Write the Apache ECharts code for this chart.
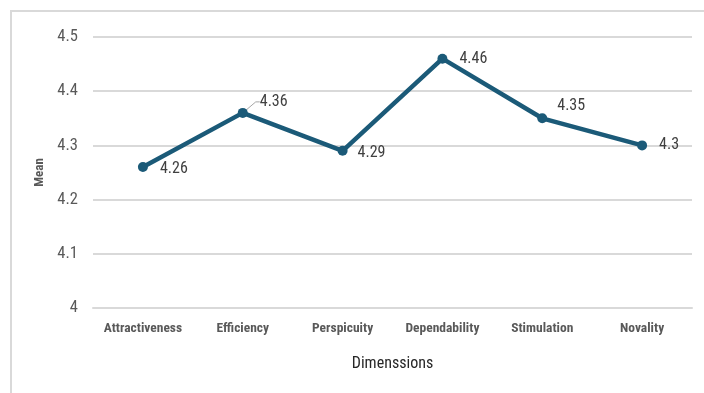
<!DOCTYPE html>
<html>
<head>
<meta charset="utf-8">
<script src="https://cdn.jsdelivr.net/npm/echarts@6/dist/echarts.min.js"></script>
<style>
  html, body { margin: 0; padding: 0; background: #fff; }
  #frame { position: absolute; left: 10px; top: 10px; width: 700px; height: 390px;
           border-left: 2px solid #d9d9d9; border-top: 2px solid #d9d9d9; box-sizing: border-box; }
  #chart { width: 704px; height: 393px; position: absolute; left: 0; top: 0; }
</style>
</head>
<body>
<div id="frame"></div>
<div id="chart"></div>
<script>
// Mean score per UEQ dimension
const dimensions = ['Attractiveness', 'Efficiency', 'Perspicuity', 'Dependability', 'Stimulation', 'Novality'];
const means = [4.26, 4.36, 4.29, 4.46, 4.35, 4.3];

const font = '"Liberation Sans Narrow", "Roboto Condensed", "DejaVu Sans Condensed", Arial, sans-serif';
const chart = echarts.init(document.getElementById('chart'), null, { renderer: 'canvas' });

// per-point label placement: [dx, dy] from the default right-hand spot
const labelShift = [[4, 2], [4, -11], [2, 2], [4, 0], [2, -12], [4, 0]];
// only the Efficiency label keeps a leader line
const leader = [false, true, false, false, false, false];

chart.setOption({
  backgroundColor: 'transparent',
  animation: false,
  grid: { left: 93, right: 12, top: 37, bottom: 85, containLabel: false },
  xAxis: {
    type: 'category',
    data: dimensions,
    boundaryGap: true,
    name: 'Dimenssions',
    nameLocation: 'middle',
    nameGap: 48,
    nameTextStyle: { fontFamily: font, fontSize: 16, color: '#262626' },
    axisLine: { show: true, lineStyle: { color: '#d9d9d9', width: 2 } },
    axisTick: { show: false },
    axisLabel: { fontFamily: font, fontSize: 13.5, fontWeight: 'bold', color: '#595959', margin: 14, interval: 0 }
  },
  yAxis: {
    type: 'value',
    min: 4,
    max: 4.5,
    interval: 0.1,
    name: 'Mean',
    nameLocation: 'middle',
    nameGap: 44,
    nameRotate: 90,
    nameTextStyle: { fontFamily: font, fontSize: 13, fontWeight: 'bold', color: '#595959' },
    axisLine: { show: false },
    axisTick: { show: false },
    axisLabel: {
      fontFamily: font, fontSize: 16.5, color: '#595959', margin: 15,
      formatter: v => String(Math.round(v * 10) / 10)
    },
    splitLine: { lineStyle: { color: '#d9d9d9', width: 2 } }
  },
  series: [{
    type: 'line',
    data: means.map((v, i) => ({ value: v, labelLine: { show: leader[i] } })),
    symbol: 'circle',
    symbolSize: 10,
    lineStyle: { color: '#1b5a78', width: 4.5 },
    itemStyle: { color: '#1b5a78' },
    label: {
      show: true,
      position: 'right',
      distance: 8,
      fontFamily: font,
      fontSize: 16,
      color: '#404040',
      formatter: p => String(p.value)
    },
    labelLine: { length2: 4, lineStyle: { color: '#a6a6a6', width: 1 } },
    labelLayout: p => {
      const s = labelShift[p.dataIndex];
      return { dx: s[0], dy: s[1] };
    }
  }]
});
</script>
</body>
</html>
